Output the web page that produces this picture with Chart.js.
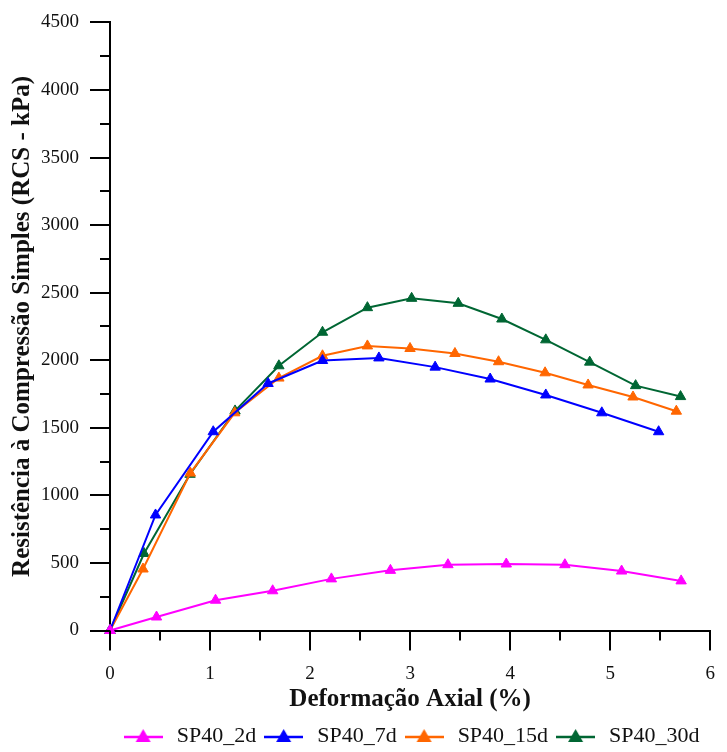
<!DOCTYPE html>
<html>
<head>
<meta charset="utf-8">
<script src="https://cdn.jsdelivr.net/npm/chart.js@4"></script>
<style>
  html, body { margin: 0; padding: 0; background: #ffffff; }
  #wrap { width: 727px; height: 752px; }
</style>
</head>
<body>
<div id="wrap"><canvas id="c" width="727" height="752"></canvas></div>
<script>
// ---- Data ----
const seriesNames = ['SP40_2d', 'SP40_7d', 'SP40_15d', 'SP40_30d'];
const seriesColors = ['#FF00FF', '#0000FF', '#FF6600', '#006633'];

const sp2dStrain = [0, 0.465, 1.055, 1.626, 2.213, 2.803, 3.378, 3.961, 4.547, 5.114, 5.709];
const sp2dStress = [0, 100, 224, 294, 382, 445, 487, 492, 487, 440, 367];

const sp7dStrain = [0, 0.455, 1.032, 1.58, 2.124, 2.688, 3.25, 3.80, 4.356, 4.916, 5.484];
const sp7dStress = [0, 855, 1471, 1828, 1998, 2017, 1949, 1861, 1743, 1611, 1471];

const sp15dStrain = [0, 0.33, 0.803, 1.246, 1.688, 2.124, 2.573, 2.999, 3.448, 3.884, 4.349, 4.779, 5.228, 5.661];
const sp15dStress = [0, 455, 1165, 1611, 1868, 2033, 2106, 2087, 2050, 1989, 1907, 1817, 1728, 1623];

const sp30dStrain = [0, 0.34, 0.80, 1.25, 1.688, 2.124, 2.573, 3.015, 3.481, 3.917, 4.356, 4.795, 5.254, 5.703];
const sp30dStress = [0, 570, 1156, 1625, 1959, 2207, 2389, 2458, 2421, 2305, 2151, 1986, 1812, 1731];

const xTitle = 'Deformação Axial (%)';
const yTitle = 'Resistência à Compressão Simples (RCS - kPa)';

// ---- Build ----
const strains = [sp2dStrain, sp7dStrain, sp15dStrain, sp30dStrain];
const stresses = [sp2dStress, sp7dStress, sp15dStress, sp30dStress];

function toPoints(xs, ys) { return xs.map((x, i) => ({ x: x, y: ys[i] })); }

function legendIcon(color) {
  const c = document.createElement('canvas');
  c.width = 39; c.height = 18;
  const g = c.getContext('2d');
  g.strokeStyle = color; g.lineWidth = 2.5;
  g.beginPath(); g.moveTo(0, 10); g.lineTo(39, 10); g.stroke();
  g.fillStyle = color;
  g.beginPath(); g.moveTo(19.5, 2); g.lineTo(27, 15); g.lineTo(12, 15); g.closePath(); g.fill();
  return c;
}
const legendIcons = seriesColors.map(legendIcon);

const datasets = seriesNames.map((name, i) => ({
  label: name,
  data: toPoints(strains[i], stresses[i]),
  borderColor: seriesColors[i],
  backgroundColor: seriesColors[i],
  pointBackgroundColor: seriesColors[i],
  pointBorderColor: seriesColors[i],
  pointStyle: 'triangle',
  pointRadius: 6,
  pointBorderWidth: 1,
  borderWidth: 2,
  tension: 0,
  clip: false
}));

const SERIF = '"Liberation Serif", "Times New Roman", serif';

const tickMarks = {
  id: 'tickMarks',
  afterDraw(chart) {
    const ctx = chart.ctx;
    const area = chart.chartArea;
    ctx.save();
    ctx.strokeStyle = '#000';
    ctx.lineWidth = 2;
    const xs = chart.scales.x;
    xs.ticks.forEach(t => {
      const px = Math.round(xs.getPixelForValue(t.value));
      const major = Math.abs(t.value - Math.round(t.value)) < 1e-9;
      const len = major ? 20 : 10;
      ctx.beginPath(); ctx.moveTo(px, area.bottom); ctx.lineTo(px, area.bottom + len); ctx.stroke();
    });
    const ys = chart.scales.y;
    ys.ticks.forEach(t => {
      const py = Math.round(ys.getPixelForValue(t.value));
      const major = t.value % 500 === 0;
      const len = major ? 20 : 10;
      ctx.beginPath(); ctx.moveTo(area.left - len, py); ctx.lineTo(area.left, py); ctx.stroke();
    });
    ctx.restore();
  }
};

new Chart(document.getElementById('c'), {
  type: 'line',
  data: { datasets: datasets },
  plugins: [tickMarks],
  options: {
    responsive: false,
    animation: false,
    devicePixelRatio: 1,
    layout: { padding: { top: 22, right: 7, bottom: -5, left: 0 } },
    plugins: {
      tooltip: { enabled: false },
      legend: {
        position: 'bottom',
        fullSize: false,
        labels: {
          usePointStyle: true,
          pointStyleWidth: 45,
          padding: 5,
          color: '#111',
          font: { family: SERIF, size: 22 },
          generateLabels(chart) {
            const items = Chart.defaults.plugins.legend.labels.generateLabels(chart);
            items.forEach((it, i) => { it.pointStyle = legendIcons[it.datasetIndex]; it.fontColor = '#111'; });
            return items;
          }
        }
      }
    },
    scales: {
      x: {
        type: 'linear',
        min: 0, max: 6,
        afterFit(scale) { scale.height = 89.5; },
        border: { display: true, color: '#000', width: 2 },
        grid: { display: true, drawOnChartArea: false, drawTicks: true, tickLength: 20, color: 'rgba(0,0,0,0)' },
        ticks: {
          stepSize: 0.5,
          padding: 12,
          color: '#111',
          maxRotation: 0,
          autoSkip: false,
          font: { family: SERIF, size: 19 },
          callback(v) { return Math.abs(v - Math.round(v)) < 1e-9 ? String(Math.round(v)) : ''; }
        },
        title: {
          display: true,
          text: xTitle,
          color: '#111',
          font: { family: SERIF, size: 25, weight: 'bold', lineHeight: 1.2 },
          padding: { top: 0, bottom: 5.5 }
        }
      },
      y: {
        type: 'linear',
        min: 0, max: 4500,
        afterFit(scale) { scale.width = 110; },
        border: { display: true, color: '#000', width: 2 },
        grid: { display: true, drawOnChartArea: false, drawTicks: true, tickLength: 20, color: 'rgba(0,0,0,0)' },
        ticks: {
          stepSize: 250,
          padding: 11,
          color: '#111',
          autoSkip: false,
          font: { family: SERIF, size: 19 },
          callback(v) { return v % 500 === 0 ? String(v) : ''; }
        },
        title: {
          display: true,
          text: yTitle,
          color: '#111',
          font: { family: SERIF, size: 25, weight: 'bold', lineHeight: 1.2 },
          padding: { top: 8, bottom: 0 }
        }
      }
    }
  }
});
</script>
</body>
</html>
